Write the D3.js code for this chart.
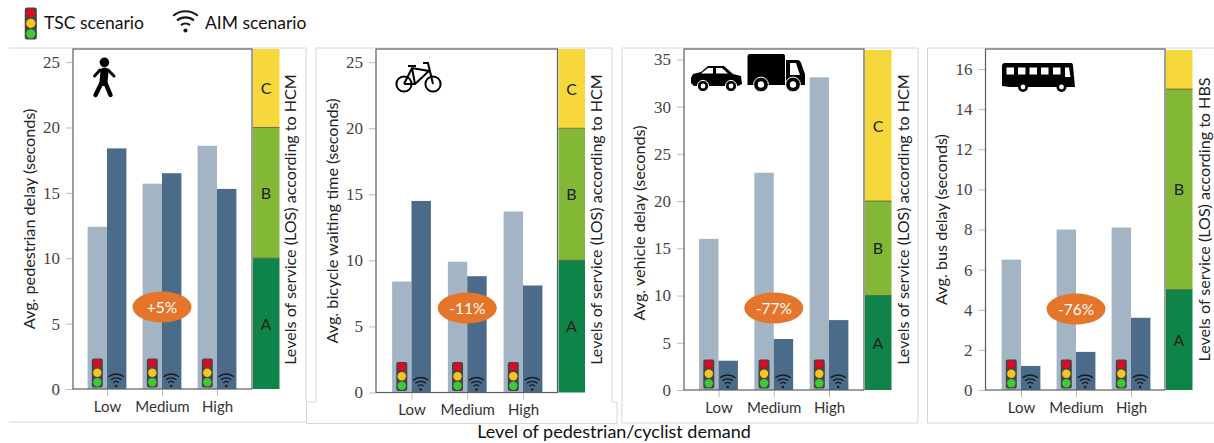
<!DOCTYPE html>
<html>
<head>
<meta charset="utf-8">
<script src="https://cdn.jsdelivr.net/npm/d3@7"></script>
<style>
html, body { margin: 0; padding: 0; background: #fff; }
svg { display: block; }
</style>
</head>
<body>
<div id="chart"></div>
<script>
const levels = ["Low", "Medium", "High"];
const scenarios = ["TSC", "AIM"];

const pedestrianTsc = [12.4, 15.7, 18.6];
const pedestrianAim = [18.4, 16.5, 15.3];
const bicycleTsc = [8.4, 9.9, 13.7];
const bicycleAim = [14.5, 8.8, 8.1];
const vehicleTsc = [16, 23, 33.1];
const vehicleAim = [3.1, 5.4, 7.4];
const busTsc = [6.5, 8, 8.1];
const busAim = [1.2, 1.9, 3.6];

const losNames = ["A", "B", "C"];
const losPedestrian = [10, 20, 26];
const losBicycle = [10, 20, 26];
const losVehicle = [10, 20, 36];
const losBus = [5, 15, 16.95];

const pedestrianTicks = [0, 5, 10, 15, 20, 25];
const bicycleTicks = [0, 5, 10, 15, 20, 25];
const vehicleTicks = [0, 5, 10, 15, 20, 25, 30, 35];
const busTicks = [0, 2, 4, 6, 8, 10, 12, 14, 16];

const colors = { TSC: "#a3b5c5", AIM: "#4a6b8a", A: "#0e8449", B: "#82b836", C: "#f7d83c" };
const sansFont = "Lato, 'Open Sans', sans-serif";
const serifFont = "'Liberation Serif', serif";
const frameColor = "#d4d6d6";

const width = 1214;
const height = 443;

const svg = d3.select("#chart").append("svg").attr("width", width).attr("height", height);

// grey frames round the panels (screenshots pasted next to each other)
const frames = [
	"M9,48H306V402M306,422H9",
	"M316,402V48H612V402M316,402H306.5V423.5H617V402H612",
	"M622,48H918V423H622Z",
	"M927.5,48H1214M927.5,48V423H1214",
];
svg.selectAll("path.frame")
	.data(frames)
	.join("path")
	.attr("class", "frame")
	.attr("d", d => d)
	.attr("fill", "none")
	.attr("stroke", frameColor)
	.attr("stroke-width", 1);

const panels = [
	{ left: 73, right: 252, top: 49, bottom: 389, max: 26, ticks: pedestrianTicks, tsc: pedestrianTsc, aim: pedestrianAim, los: losPedestrian, losLabels: losNames, x0: 107, x1: 217, label: "Avg. pedestrian delay (seconds)", labelX: 35, labelY: 219, losLabel: "Levels of service (LOS) according to HCM", losLabelX: 296, change: "+5%", ovalY: 307, icon: "walk" },
	{ left: 376, right: 557.5, top: 49, bottom: 392.5, max: 26, ticks: bicycleTicks, tsc: bicycleTsc, aim: bicycleAim, los: losBicycle, losLabels: losNames, x0: 411.5, x1: 523, label: "Avg. bicycle waiting time (seconds)", labelX: 337.5, labelY: 221, losLabel: "Levels of service (LOS) according to HCM", losLabelX: 602, change: "-11%", ovalY: 308, icon: "bike" },
	{ left: 684, right: 864, top: 49, bottom: 390, max: 36.1, ticks: vehicleTicks, tsc: vehicleTsc, aim: vehicleAim, los: losVehicle, losLabels: losNames, x0: 718.5, x1: 829, label: "Avg. vehicle delay (seconds)", labelX: 645, labelY: 223, losLabel: "Levels of service (LOS) according to HCM", losLabelX: 908.5, change: "-77%", ovalY: 308, icon: "car" },
	{ left: 985.5, right: 1165, top: 49, bottom: 390, max: 17, ticks: busTicks, tsc: busTsc, aim: busAim, los: losBus, losLabels: ["A", "B", ""], x0: 1021, x1: 1131, label: "Avg. bus delay (seconds)", labelX: 947, labelY: 219.5, losLabel: "Levels of service (LOS) according to HBS", losLabelX: 1210, change: "-76%", ovalY: 309, icon: "bus" },
];

function trafficLight(parent, cx, bottom, scale) {
	const g = parent.append("g").attr("transform", `translate(${cx},${bottom}) scale(${scale})`);
	g.append("rect").attr("x", -5.5).attr("y", -29).attr("width", 11).attr("height", 29).attr("rx", 2).attr("fill", "#454545");
	g.append("circle").attr("cy", -24.3).attr("r", 4.2).attr("fill", "#dc0a24");
	g.append("circle").attr("cy", -14.7).attr("r", 4.2).attr("fill", "#fbc320");
	g.append("circle").attr("cy", -5.2).attr("r", 4.2).attr("fill", "#3ccb33");
}

// wifi glyph, cy is the dot
function wifi(parent, cx, cy, scale) {
	const g = parent.append("g").attr("transform", `translate(${cx},${cy}) scale(${scale})`).attr("fill", "none").attr("stroke", "#1a1a1a").attr("stroke-width", 1.3);
	const a = 40 * Math.PI / 180;
	[4.4, 8.2, 12].forEach(r => {
		g.append("path").attr("d", d3.arc()({ innerRadius: r, outerRadius: r, startAngle: -a, endAngle: a }));
	});
	g.append("circle").attr("r", 1.3).attr("fill", "#1a1a1a").attr("stroke", "none");
}

function drawIcon(parent, p) {
	if (p.icon === "walk") {
		const g = parent.append("g").attr("fill", "none").attr("stroke", "#000").attr("stroke-linecap", "round").attr("stroke-linejoin", "round");
		g.append("circle").attr("cx", 104.4).attr("cy", 62.3).attr("r", 4.8).attr("fill", "#000").attr("stroke", "none");
		g.append("path").attr("d", "M104.5,71.5L103.5,82").attr("stroke-width", 8);
		g.append("path").attr("d", "M100,70L94.5,76M108,70L114,76").attr("stroke-width", 3);
		g.append("path").attr("d", "M101.5,83L95.5,95M105.5,83L110.5,95").attr("stroke-width", 4.4);
	}
	if (p.icon === "bike") {
		const g = parent.append("g").attr("fill", "none").attr("stroke", "#000").attr("stroke-width", 2);
		g.append("circle").attr("cx", 404).attr("cy", 84).attr("r", 7.6);
		g.append("circle").attr("cx", 433).attr("cy", 84).attr("r", 7.6);
		g.append("path").attr("d", "M404,84L412,68L429,71L415,84H404M412,68L415,84M423,63H428L433,84M408,66H416");
	}
	if (p.icon === "car") {
		const g = parent.append("g");
		g.append("path").attr("d", "M691,78L693,74L701,72L708,66H724L733,74L741,76L742,84L738,86H694L691,83Z").attr("fill", "#000");
		g.append("path").attr("d", "M701,73.5L708,68H713V73.5ZM716,68H722L728,73.5H716Z").attr("fill", "#fff");
		[703, 731].forEach(cx => {
			g.append("circle").attr("cx", cx).attr("cy", 86).attr("r", 5.6).attr("fill", "#000").attr("stroke", "#fff").attr("stroke-width", 1);
			g.append("circle").attr("cx", cx).attr("cy", 86).attr("r", 2.4).attr("fill", "#fff");
		});
		g.append("path").attr("d", "M747.5,56Q747.5,54 750,54H783Q785,54 785,56V85H747.5Z").attr("fill", "#000");
		g.append("path").attr("d", "M786,60H797Q800,60 801,63L805,74V85H786Z").attr("fill", "#000");
		g.append("path").attr("d", "M790,63H796L800,75H790Z").attr("fill", "#fff");
		[761, 793].forEach(cx => {
			g.append("circle").attr("cx", cx).attr("cy", 84.5).attr("r", 7.4).attr("fill", "#000").attr("stroke", "#fff").attr("stroke-width", 1);
			g.append("circle").attr("cx", cx).attr("cy", 84.5).attr("r", 3.2).attr("fill", "#fff");
		});
	}
	if (p.icon === "bus") {
		const g = parent.append("g");
		g.append("path").attr("d", "M1002,66Q1002,63 1005,63H1071Q1073,63 1073,66L1075,87H1010L1002,86Z").attr("fill", "#000");
		[1006.5, 1018, 1029.5, 1041, 1053].forEach(x => {
			g.append("rect").attr("x", x).attr("y", 67.5).attr("width", 7.5).attr("height", 7).attr("fill", "#fff");
		});
		g.append("path").attr("d", "M1065,67.5H1069L1070.5,77H1065Z").attr("fill", "#fff");
		[1023, 1061.5].forEach(cx => {
			g.append("circle").attr("cx", cx).attr("cy", 87).attr("r", 5).attr("fill", "#000");
			g.append("circle").attr("cx", cx).attr("cy", 87).attr("r", 2.4).attr("fill", "#fff");
		});
	}
}

panels.forEach(p => {
	const g = svg.append("g");

	const yScale = d3.scaleLinear().domain([0, p.max]).range([p.bottom, p.top]);
	const xScale = d3.scalePoint().domain(levels).range([p.x0, p.x1]);
	const barScale = d3.scaleBand().domain(scenarios).range([-19.4, 19.4]);

	// LOS strip at the right of the plot
	const losData = p.los.map((v, i) => ({ name: losNames[i], label: p.losLabels[i], from: i ? p.los[i - 1] : 0, to: v }));
	const losX = p.right + 1;
	g.selectAll("rect.los")
		.data(losData)
		.join("rect")
		.attr("class", "los")
		.attr("x", losX)
		.attr("width", 26.5)
		.attr("y", d => yScale(d.to))
		.attr("height", d => yScale(d.from) - yScale(d.to))
		.attr("fill", d => colors[d.name]);
	g.selectAll("line.losline")
		.data(losData.slice(1))
		.join("line")
		.attr("class", "losline")
		.attr("x1", losX)
		.attr("x2", losX + 26.5)
		.attr("y1", d => yScale(d.from))
		.attr("y2", d => yScale(d.from))
		.attr("stroke", "#444")
		.attr("stroke-width", 0.7);
	g.selectAll("text.los")
		.data(losData.filter(d => d.label))
		.join("text")
		.attr("class", "los")
		.attr("x", losX + 13)
		.attr("y", d => (yScale(d.from) + yScale(d.to)) / 2 + 6)
		.attr("text-anchor", "middle")
		.style("font-family", sansFont)
		.style("font-size", "16px")
		.style("fill", "#222")
		.text(d => d.label);

	// bars
	const barData = [];
	levels.forEach((level, i) => {
		barData.push({ level, scenario: "TSC", value: p.tsc[i] });
		barData.push({ level, scenario: "AIM", value: p.aim[i] });
	});
	g.selectAll("rect.bar")
		.data(barData)
		.join("rect")
		.attr("class", "bar")
		.attr("x", d => xScale(d.level) + barScale(d.scenario))
		.attr("width", barScale.bandwidth())
		.attr("y", d => yScale(d.value))
		.attr("height", d => yScale(0) - yScale(d.value))
		.attr("fill", d => colors[d.scenario]);

	// axes
	const yAxis = d3.axisLeft(yScale).tickValues(p.ticks).tickSize(7).tickPadding(6).tickFormat(d3.format("d"));
	const yGroup = g.append("g").attr("transform", `translate(${p.left},0)`).call(yAxis);
	yGroup.select(".domain").remove();
	yGroup.selectAll("line").attr("stroke", "#bbb");
	yGroup.selectAll("text").style("font-family", serifFont).style("font-size", "17px").style("fill", "#444");

	const xAxis = d3.axisBottom(xScale).tickSize(7).tickPadding(5);
	const xGroup = g.append("g").attr("transform", `translate(0,${p.bottom})`).call(xAxis);
	xGroup.select(".domain").remove();
	xGroup.selectAll("line").attr("stroke", "#bbb");
	xGroup.selectAll("text").style("font-family", sansFont).style("font-size", "15px").style("fill", "#333");

	// plot box
	g.append("rect")
		.attr("x", p.left)
		.attr("y", p.top)
		.attr("width", p.right - p.left)
		.attr("height", p.bottom - p.top)
		.attr("fill", "none")
		.attr("stroke", "#5e5e5e")
		.attr("stroke-width", 1.2);

	// axis titles
	g.append("text")
		.attr("transform", `translate(${p.labelX},${p.labelY}) rotate(-90)`)
		.attr("text-anchor", "middle")
		.style("font-family", sansFont)
		.style("font-size", "16.2px")
		.style("fill", "#222")
		.text(p.label);
	g.append("text")
		.attr("transform", `translate(${p.losLabelX},219.5) rotate(-90)`)
		.attr("text-anchor", "middle")
		.style("font-family", sansFont)
		.style("font-size", "16.1px")
		.style("fill", "#222")
		.text(p.losLabel);

	// scenario glyphs at the foot of each bar pair
	levels.forEach(level => {
		trafficLight(g, xScale(level) + barScale("TSC") + barScale.bandwidth() / 2, p.bottom - 1.5, 1);
		wifi(g, xScale(level) + barScale("AIM") + barScale.bandwidth() / 2 - 0.5, p.bottom - 3, 1);
	});

	// change badge
	const midX = xScale("Medium");
	g.append("ellipse").attr("cx", midX).attr("cy", p.ovalY).attr("rx", 29.5).attr("ry", 15.5).attr("fill", "#e5752a");
	g.append("text")
		.attr("x", midX)
		.attr("y", p.ovalY + 5.5)
		.attr("text-anchor", "middle")
		.style("font-family", sansFont)
		.style("font-size", "15.5px")
		.style("fill", "#fff")
		.text(p.change);

	drawIcon(g, p);
});

// legend
trafficLight(svg, 30.8, 39.5, 1.1);
wifi(svg, 185.5, 30.5, 1.6);
svg.append("text").attr("x", 44).attr("y", 29).style("font-family", sansFont).style("font-size", "17.5px").style("fill", "#111").text("TSC scenario");
svg.append("text").attr("x", 205).attr("y", 29).style("font-family", sansFont).style("font-size", "17.5px").style("fill", "#111").text("AIM scenario");

// shared x title
svg.append("text")
	.attr("x", 614)
	.attr("y", 437.5)
	.attr("text-anchor", "middle")
	.style("font-family", sansFont)
	.style("font-size", "18px")
	.style("fill", "#111")
	.text("Level of pedestrian/cyclist demand");
</script>
</body>
</html>
